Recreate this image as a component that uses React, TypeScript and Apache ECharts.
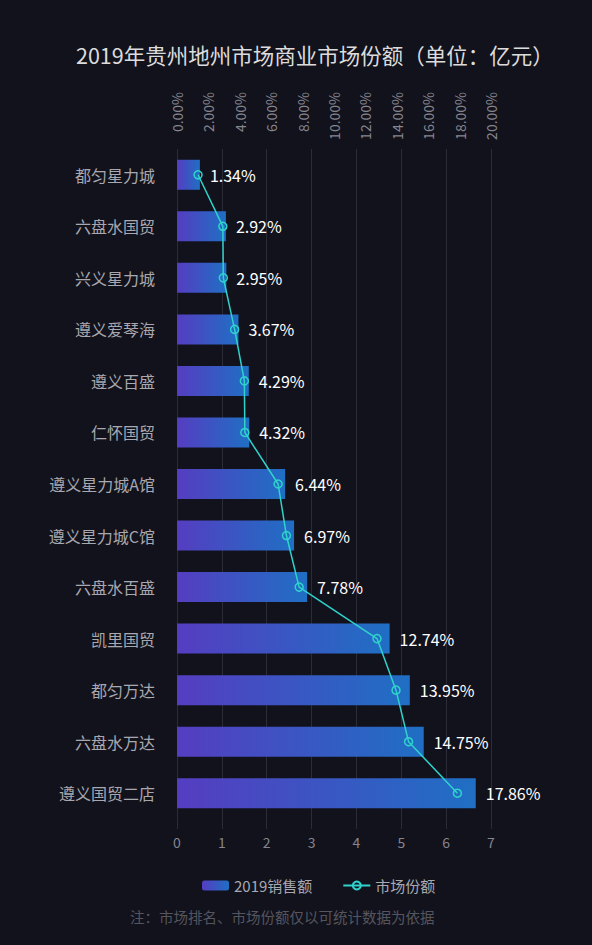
import React, { useEffect, useRef } from 'react';
import * as echarts from 'echarts';

const categories = [
  '都匀星力城',
  '六盘水国贸',
  '兴义星力城',
  '遵义爱琴海',
  '遵义百盛',
  '仁怀国贸',
  '遵义星力城A馆',
  '遵义星力城C馆',
  '六盘水百盛',
  '凯里国贸',
  '都匀万达',
  '六盘水万达',
  '遵义国贸二店',
];

// 2019 sales, 亿元
const sales = [0.51, 1.09, 1.1, 1.37, 1.6, 1.61, 2.41, 2.61, 2.9, 4.74, 5.19, 5.5, 6.66];

// market share, %
const shares = [1.34, 2.92, 2.95, 3.67, 4.29, 4.32, 6.44, 6.97, 7.78, 12.74, 13.95, 14.75, 17.86];

const FONT = '"Noto Sans CJK SC", "Noto Sans", sans-serif';
const BG = '#12121c';
const CYAN = '#2fd3cc';

const App: React.FC = () => {
  const chartRef = useRef<HTMLDivElement>(null);

  useEffect(() => {
    if (!chartRef.current) return;

    const myChart = echarts.init(chartRef.current, undefined, { renderer: 'svg' });

    const barColor = new echarts.graphic.LinearGradient(0, 0, 1, 0, [
      { offset: 0, color: '#553dc1' },
      { offset: 1, color: '#1f6fc4' },
    ]);

    const option: echarts.EChartsOption = {
      animation: false,
      backgroundColor: BG,
      textStyle: { fontFamily: FONT },
      title: {
        text: '2019年贵州地州市场商业市场份额（单位：亿元）',
        left: 71,
        top: 39,
        textStyle: {
          color: '#dcdcdc',
          fontSize: 21.5,
          fontWeight: 'normal',
          fontFamily: FONT,
        },
      },
      legend: {
        left: 197,
        top: 873,
        itemWidth: 27,
        itemHeight: 10,
        itemGap: 30,
        textStyle: { color: '#a8a8b0', fontSize: 15, fontFamily: FONT },
        data: ['2019销售额', '市场份额'],
      },
      graphic: [
        {
          type: 'text',
          left: 130,
          top: 909,
          style: {
            text: '注：市场排名、市场份额仅以可统计数据为依据',
            fill: '#55555f',
            fontSize: 14.5,
            fontFamily: FONT,
          },
        },
      ],
      grid: {
        left: 177,
        right: 101,
        top: 149,
        bottom: 126,
      },
      xAxis: [
        {
          type: 'value',
          position: 'bottom',
          min: 0,
          max: 7,
          interval: 1,
          axisLine: { show: false },
          axisTick: {
            show: true,
            length: 10,
            lineStyle: { color: '#2c2c38' },
          },
          axisLabel: { color: '#85858f', fontSize: 14, margin: 16 },
          splitLine: { show: true, lineStyle: { color: '#2c2c38' } },
        },
        {
          type: 'value',
          position: 'top',
          min: 0,
          max: 20,
          interval: 2,
          axisLine: { show: false },
          axisTick: { show: false },
          splitLine: { show: false },
          axisLabel: {
            color: '#85858f',
            fontSize: 14,
            rotate: -90,
            align: 'right',
            margin: 57,
            formatter: (v: number) => v.toFixed(2) + '%',
          },
        },
      ],
      yAxis: {
        type: 'category',
        inverse: true,
        data: categories,
        axisLine: { show: false },
        axisTick: { show: false },
        axisLabel: { color: '#a8a8b0', fontSize: 16, margin: 22 },
      },
      series: [
        {
          name: '2019销售额',
          type: 'bar',
          xAxisIndex: 0,
          barWidth: 30,
          itemStyle: { color: barColor },
          label: {
            show: true,
            position: 'right',
            distance: 10,
            color: '#ffffff',
            fontSize: 16,
            formatter: (p: any) => shares[p.dataIndex].toFixed(2) + '%',
          },
          data: sales,
        },
        {
          name: '市场份额',
          type: 'line',
          xAxisIndex: 1,
          symbol: 'circle',
          symbolSize: 8,
          itemStyle: { color: 'rgba(0,0,0,0)', borderColor: CYAN, borderWidth: 1.5 },
          lineStyle: { color: CYAN, width: 1.5 },
          data: shares,
        },
      ],
    };

    myChart.setOption(option);

    return () => {
      myChart.dispose();
    };
  }, []);

  return (
    <div
      ref={chartRef}
      style={{ position: 'fixed', left: 0, top: 0, width: '592px', height: '945px' }}
    />
  );
};

export default App;
